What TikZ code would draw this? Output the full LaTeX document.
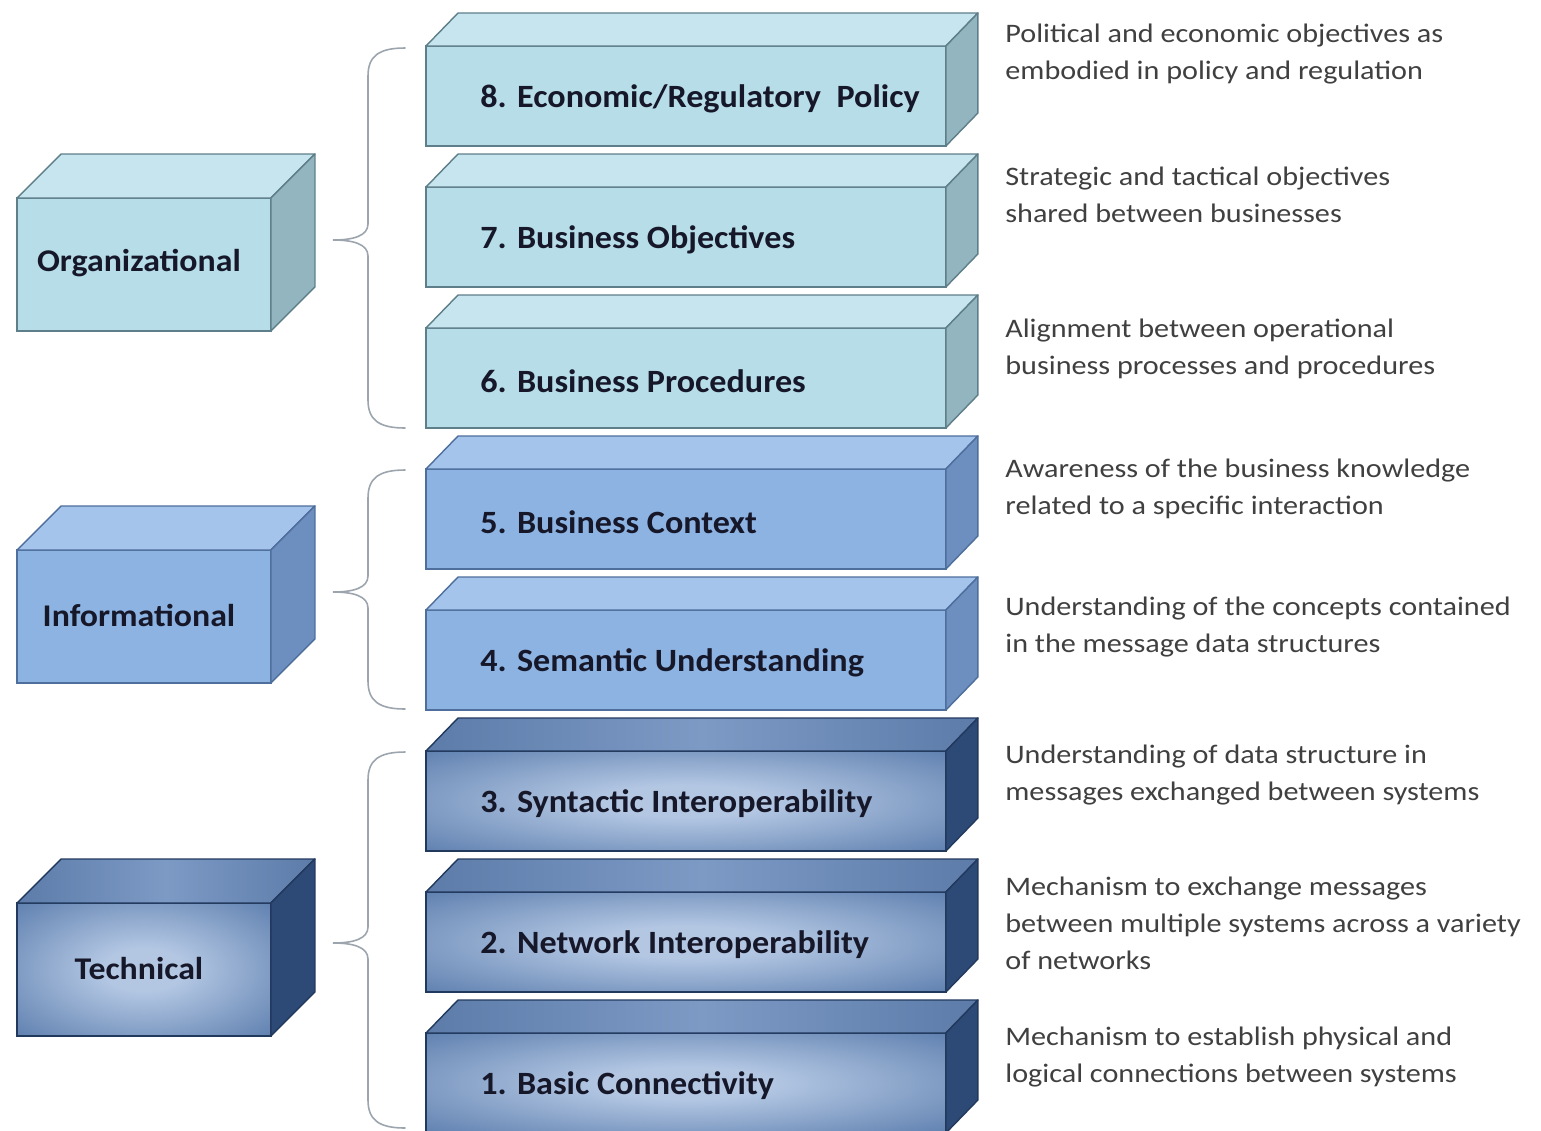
\documentclass[tikz,border=0pt]{standalone}
\usepackage{fontspec}
\setmainfont{Carlito}
\newfontfamily\descfont[FakeStretch=1.13]{Carlito}
\newfontfamily\lblfont[FakeStretch=1.05]{Carlito}
\newfontfamily\grpfont[FakeStretch=1.07]{Carlito}
\definecolor{orgF}{HTML}{B7DDE8}
\definecolor{orgT}{HTML}{C6E5EE}
\definecolor{orgS}{HTML}{93B5BF}
\definecolor{orgE}{HTML}{5E7E89}
\definecolor{infF}{HTML}{8DB3E2}
\definecolor{infT}{HTML}{A5C4EC}
\definecolor{infS}{HTML}{6D8FC0}
\definecolor{infE}{HTML}{4E6E9C}
\definecolor{tecC}{HTML}{B3C7E3}
\definecolor{tecM}{HTML}{587AAB}
\definecolor{tecO}{HTML}{335588}
\definecolor{tecK}{HTML}{264579}
\definecolor{tecT1}{HTML}{3D5D8C}
\definecolor{tecT2}{HTML}{7D9AC5}
\definecolor{tecS}{HTML}{2D4A76}
\definecolor{tecE}{HTML}{22395E}
\definecolor{lblC}{HTML}{16182A}
\definecolor{descC}{HTML}{404040}
\definecolor{braceC}{HTML}{9CA5AE}
\pgfdeclareradialshading{techfront}{\pgfpoint{0bp}{0bp}}{color(0bp)=(tecC); color(8bp)=(tecC); color(38bp)=(tecM); color(52bp)=(tecO); color(75bp)=(tecK)}
\pgfdeclarehorizontalshading{techtop}{100bp}{color(0bp)=(tecT1); color(50bp)=(tecT2); color(100bp)=(tecT1)}
\tikzset{
  frontR/.style={rectangle, minimum width=10.4cm, minimum height=2cm, inner sep=0pt, outer sep=0pt, line width=0.8pt},
  frontL/.style={rectangle, minimum width=5.08cm, minimum height=2.66cm, inner sep=0pt, outer sep=0pt, line width=0.8pt},
  orgfront/.style={fill=orgF, draw=orgE},
  orgtop/.style={fill=orgT, draw=orgE, line width=0.8pt, line join=round},
  orgside/.style={fill=orgS, draw=orgE, line width=0.8pt, line join=round},
  inffront/.style={fill=infF, draw=infE},
  inftop/.style={fill=infT, draw=infE, line width=0.8pt, line join=round},
  infside/.style={fill=infS, draw=infE, line width=0.8pt, line join=round},
  tecfront/.style={shading=techfront, draw=tecE},
  tectop/.style={shading=techtop, draw=tecE, line width=0.8pt, line join=round},
  tecside/.style={fill=tecS, draw=tecE, line width=0.8pt, line join=round},
  rlabel/.style={anchor=west, inner sep=0pt, font=\lblfont\fontsize{18.5}{22}\selectfont\bfseries, text=lblC},
  llabel/.style={inner sep=0pt, font=\grpfont\fontsize{18}{22}\selectfont\bfseries, text=lblC},
  desc/.style={anchor=base west, inner sep=0pt, align=left, font=\descfont\fontsize{15.2}{21}\selectfont, text=descC},
  bracestyle/.style={draw=braceC, line width=0.9pt, line cap=round}
}
% right layer box: name, y of front top, label, kind
\newcommand\layerbox[4]{%
  \node[frontR,#4front,anchor=north west] (#1) at (426,#2) {};
  \path[#4top] (#1.north west) -- ([shift={(32,-33)}]#1.north west) -- ([shift={(32,-33)}]#1.north east) -- (#1.north east) -- cycle;
  \path[#4side] (#1.north east) -- ([shift={(32,-33)}]#1.north east) -- ([shift={(32,-33)}]#1.south east) -- (#1.south east) -- cycle;
  \node[rlabel] (#1t) at ([shift={(54,3)}]#1.west) {#3};
}
% left group box: name, y of front top, label, kind
\newcommand\groupbox[4]{%
  \node[frontL,#4front,anchor=north west] (#1) at (17,#2) {};
  \path[#4top] (#1.north west) -- ([shift={(44,-44)}]#1.north west) -- ([shift={(44,-44)}]#1.north east) -- (#1.north east) -- cycle;
  \path[#4side] (#1.north east) -- ([shift={(44,-44)}]#1.north east) -- ([shift={(44,-44)}]#1.south east) -- (#1.south east) -- cycle;
  \node[llabel] (#1t) at ([shift={(-5,-1)}]#1.center) {#3};
}
% brace: name, y top, y tip, y bottom
\newcommand\groupbrace[4]{%
  \coordinate (#1a) at (405,#2);
  \coordinate (#1t) at (333,#3);
  \coordinate (#1b) at (405,#4);
  \draw[bracestyle] (#1a) .. controls +(-26,0) and +(0,-20) .. (368,#2+28) -- (368,#3-16) .. controls +(0,12) and +(20,0) .. (#1t) .. controls +(20,0) and +(0,-12) .. (368,#3+16) -- (368,#4-28) .. controls +(0,20) and +(-26,0) .. (#1b);
}
\begin{document}
\begin{tikzpicture}[x=0.02cm, y=-0.02cm]
\useasboundingbox (0,0) rectangle (1541,1130);
\fill[white] (0,0) rectangle (1541,1130);

\layerbox{b8}{46}{8. Economic/Regulatory\ \ Policy}{org}
\layerbox{b7}{187}{7. Business\ Objectives}{org}
\layerbox{b6}{328}{6. Business\ Procedures}{org}
\layerbox{b5}{469}{5. Business\ Context}{inf}
\layerbox{b4}{610}{4. Semantic\ Understanding}{inf}
\layerbox{b3}{751}{3. Syntactic\ Interoperability}{tec}
\layerbox{b2}{892}{2. Network\ Interoperability}{tec}
\layerbox{b1}{1033}{1. Basic\ Connectivity}{tec}

\groupbox{gorg}{198}{Organizational}{org}
\groupbox{ginf}{550}{Informational}{inf}
\groupbox{gtec}{903}{Technical}{tec}

\groupbrace{br1}{48}{240}{428}
\groupbrace{br2}{470}{592}{709}
\groupbrace{br3}{752}{943}{1128}

% anchor is the baseline of the last line
\node[desc] (d8) at (1005,79) {Political and economic objectives as\\embodied in policy and regulation};
\node[desc] (d7) at (1005,222) {Strategic and tactical objectives\\shared between businesses};
\node[desc] (d6) at (1005,374) {Alignment between operational\\business processes and procedures};
\node[desc] (d5) at (1005,514) {Awareness of the business knowledge\\related to a specific interaction};
\node[desc] (d4) at (1005,652) {Understanding of the concepts contained\\in the message data structures};
\node[desc] (d3) at (1005,800) {Understanding of data structure in\\messages exchanged between systems};
\node[desc] (d2) at (1005,969) {Mechanism to exchange messages\\between multiple systems across a variety\\of networks};
\node[desc] (d1) at (1005,1082) {Mechanism to establish physical and\\logical connections between systems};
\end{tikzpicture}
\end{document}
